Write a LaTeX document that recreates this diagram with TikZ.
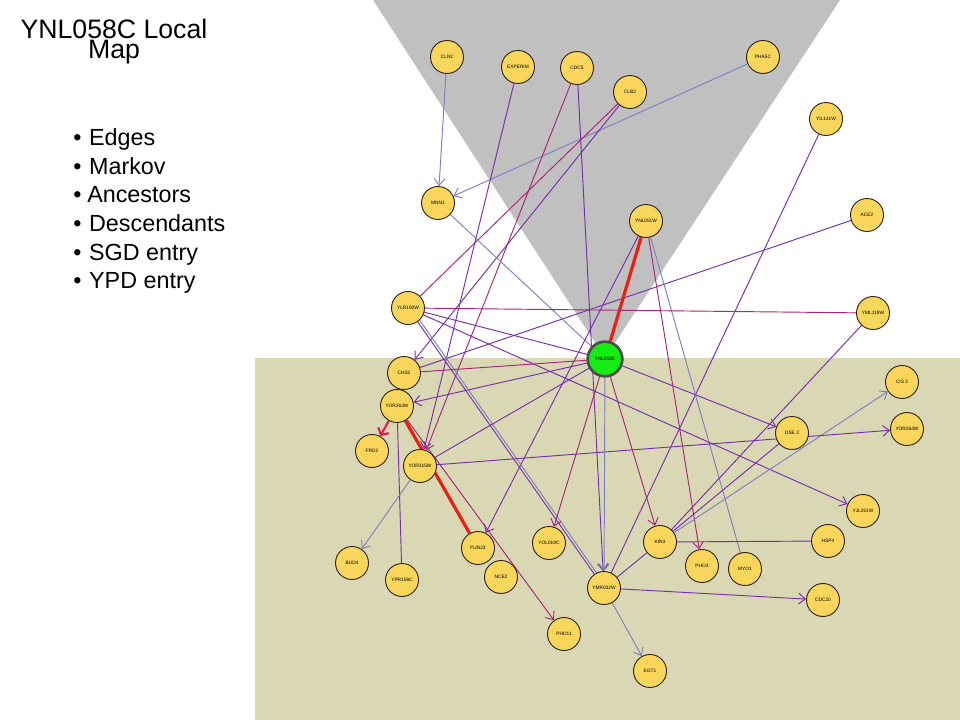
\documentclass[tikz,border=0pt]{standalone}
\usepackage{fontspec}
\setmainfont{Liberation Sans}
\usetikzlibrary{arrows.meta}
\definecolor{pur}{RGB}{118,46,172}
\definecolor{mag}{RGB}{168,36,120}
\definecolor{blu}{RGB}{124,128,190}
\definecolor{redl}{RGB}{232,32,18}
\definecolor{crim}{RGB}{222,30,80}
\definecolor{graytri}{RGB}{192,192,192}
\definecolor{olivebg}{RGB}{218,216,180}
\definecolor{genefill}{RGB}{250,214,92}
\definecolor{geneline}{RGB}{50,36,20}
\definecolor{hubfill}{RGB}{20,236,20}
\pgfdeclarelayer{bg}
\pgfdeclarelayer{edges}
\pgfsetlayers{bg,edges,main}
\begin{document}
\begin{tikzpicture}[x=0.75pt,y=-0.75pt,
  gene/.style={circle,draw=geneline,fill=genefill,line width=0.7pt,minimum size=24.75pt,inner sep=0pt,font=\fontsize{3.6}{4}\selectfont},
  hub/.style={circle,draw=black!70,fill=hubfill,line width=2pt,minimum size=26pt,inner sep=0pt,font=\fontsize{3.6}{4}\selectfont},
  e/.style={line width=0.7pt},
  ar/.style={-{Straight Barb[length=5pt,width=8pt]}},
  thickred/.style={redl,line width=2.4pt},
  title/.style={font=\fontsize{20}{15.5}\selectfont,align=center,anchor=north,inner sep=0pt},
  item/.style={font=\fontsize{17.5}{18}\selectfont,anchor=base west,inner sep=0pt}]
\useasboundingbox (0,0) rectangle (960,720);
\begin{pgfonlayer}{bg}
  \fill[white] (0,0) rectangle (960,720);
  \fill[graytri] (373,0) -- (840,0) -- (605,358) -- cycle;
  \fill[olivebg] (255,358) rectangle (960,720);
\end{pgfonlayer}

% title and list
\node[title] (t1) at (114,18.5) {YNL058C Local\\Map};
\node[item] (i1) at (73,146) {•\hspace{0.33em}Edges};
\node[item] (i2) at (73,175) {•\hspace{0.33em}Markov};
\node[item] (i3) at (73,203) {•\hspace{0.25em}Ancestors};
\node[item] (i4) at (73,232) {•\hspace{0.33em}Descendants};
\node[item] (i5) at (73,261) {•\hspace{0.33em}SGD entry};
\node[item] (i6) at (73,289) {•\hspace{0.33em}YPD entry};

% genes
\node[gene] (cln2) at (447,57) {CLN2};
\node[gene] (exp) at (518,67) {EXPERIM};
\node[gene] (cdc5) at (577,68) {CDC5};
\node[gene] (clb2) at (630,92) {CLB2};
\node[gene] (pha) at (763,57) {PHA5C};
\node[gene] (yil) at (826,119) {YIL141W};
\node[gene] (ace2) at (867,215) {ACE2};
\node[gene] (mnn1) at (438,203) {MNN1};
\node[gene] (ynl051) at (646,221) {YNL051W};
\node[gene] (ylr190) at (408,308) {YLR190W};
\node[gene] (yml119) at (873,313) {YML119W};
\node[hub] (hub) at (605,359) {YNL058C};
\node[gene] (chs2) at (404,373) {CHS2};
\node[gene] (yor263) at (397,406) {YOR263W};
\node[gene] (frd2) at (372,451) {FRD2};
\node[gene] (yor315) at (420,466) {YOR315W};
\node[gene] (dse2) at (792,433) {DSE 2};
\node[gene] (cis2) at (902,382) {CIS 2};
\node[gene] (yor264) at (907,429) {YOR264W};
\node[gene] (yjl051) at (863,511) {YJL051W};
\node[gene] (hsp4) at (828,541) {HSP4};
\node[gene] (kin3) at (660,542) {KIN3};
\node[gene] (pho3) at (702,566) {PHO3};
\node[gene] (myo1) at (745,569) {MYO1};
\node[gene] (cdc20) at (823,600) {CDC20};
\node[gene] (egt1) at (650,671) {EGT1};
\node[gene] (ymr) at (604,588) {YMR032W};
\node[gene] (yol019) at (549,543) {YOL019C};
\node[gene] (pho11) at (564,634) {PHO11};
\node[gene] (nce2) at (501,577) {NCE2};
\node[gene] (fun23) at (478,548) {FUN23};
\node[gene] (bud4) at (352,563) {BUD4};
\node[gene] (ypr156) at (402,580) {YPR156C};

\begin{pgfonlayer}{edges}
  \draw[e,blu,ar] (cln2) -- (mnn1);
  \draw[e,blu,ar] (pha) -- (mnn1);
  \draw[e,pur,ar] (exp) -- (yor315);
  \draw[e,mag,ar] (cdc5) -- (yor315);
  \draw[e,pur,ar] (cdc5) -- (ymr);
  \draw[e,mag] (clb2) -- (ylr190);
  \draw[e,pur,ar] (clb2) -- (chs2);
  \draw[e,pur] (yil) -- (ymr);
  \draw[e,pur] (ace2) -- (chs2);
  \draw[e,blu] (mnn1) -- (hub);
  \draw[thickred] (ynl051) -- (hub);
  \draw[e,mag,ar] (ynl051) -- (pho3);
  \draw[e,blu] (ynl051) -- (myo1);
  \draw[e,pur,ar] (ynl051) -- (fun23);
  \draw[e,mag] (ylr190) -- (yml119);
  \draw[e,pur] (ylr190) -- (hub);
  \draw[e,pur,ar] (ylr190) -- (yjl051);
  \draw[e,pur] (ylr190) -- (ymr);
  \draw[e,blu,transform canvas={shift={(1.6pt,1.1pt)}}] (ylr190) -- (ymr);
  \draw[e,pur,ar] (hub) -- (dse2);
  \draw[e,pur] (yml119) -- (kin3);
  \draw[e,pur] (dse2) -- (kin3);
  \draw[e,blu,ar] (kin3) -- (cis2);
  \draw[e,pur] (kin3) -- (ymr);
  \draw[e,pur] (kin3) -- (hsp4);
  \draw[e,mag,ar] (hub) -- (kin3);
  \draw[e,pur,ar] (hub) -- (yor263);
  \draw[e,mag] (chs2) -- (hub);
  \draw[e,pur] (yor315) -- (hub);
  \draw[thickred] (yor263) -- (fun23);
  \draw[e,mag,ar] (hub) -- (yol019);
  \draw[e,mag,ar] (yor263) -- (pho11);
  \draw[e,pur,ar] (yor315) -- (yor264);
  \draw[e,blu,ar] (ymr) -- (egt1);
  \draw[e,pur,ar] (ymr) -- (cdc20);
  \draw[e,blu,ar] (hub) -- (ymr);
  \draw[crim,line width=1.6pt,-{Straight Barb[length=4pt,width=9pt]}] (yor263) -- (frd2);
  \draw[e,pur] (yor263) -- (ypr156);
  \draw[e,blu,ar] (yor315) -- (bud4);
\end{pgfonlayer}
\end{tikzpicture}
\end{document}
